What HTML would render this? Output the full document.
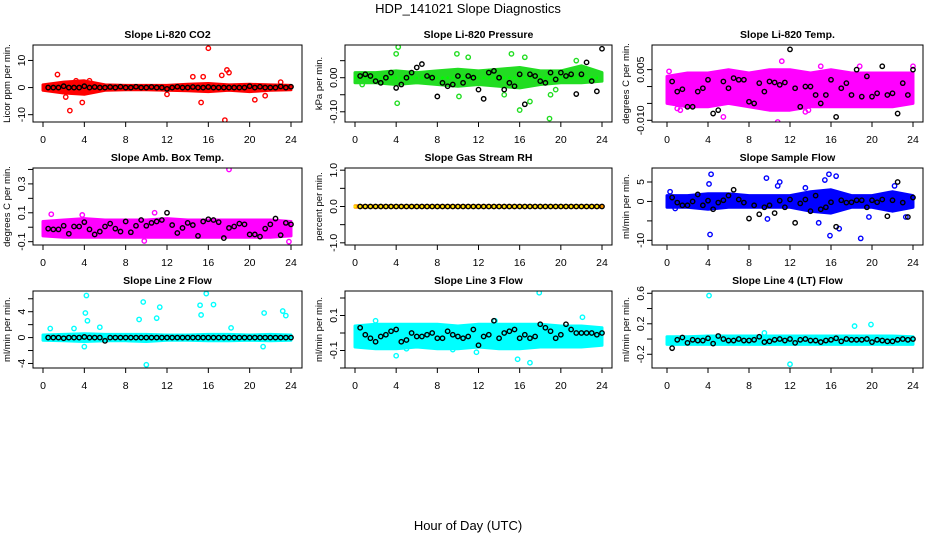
<!DOCTYPE html>
<html><head><meta charset="utf-8">
<style>
html,body{margin:0;padding:0;background:#fff;}
svg{display:block;font-family:"Liberation Sans",sans-serif;}
</style></head>
<body>
<svg id="chart" width="936" height="540" viewBox="0 0 936 540">
<text x="468" y="13" text-anchor="middle" font-size="13">HDP_141021  Slope Diagnostics</text>
<text x="468" y="530" text-anchor="middle" font-size="13">Hour of Day (UTC)</text>
</svg>
<script>
const blackHours = [0.5,1,1.5,2,2.5,3,3.5,4,4.5,5,5.5,6,6.5,7,7.5,8,8.5,9,9.5,10,10.5,11,11.5,12,12.5,13,13.5,14,14.5,15,15.5,16,16.5,17,17.5,18,18.5,19,19.5,20,20.5,21,21.5,22,22.5,23,23.5,24];
const bandHours = [0,2,4,6,8,10,12,14,16,18,20,22,24];

const co2BandLo = [-1,-2,-2.5,-1,-0.8,-0.8,-1,-1.2,-1.5,-1,-1.5,-1,-0.8];
const co2BandHi = [1,2,2.5,1,0.8,0.8,0.8,1.2,1.5,1,1.2,1,0.8];
const co2OutX = [1.4,2.6,3.8,3.2,4.5,14.5,15.3,15.5,16,17.6,17.8,18,17.3,20.5,23,21.5,12,2.2];
const co2OutY = [4.8,-8.5,-5.5,2.5,2.5,4,-5.5,4,14.5,-12,6.5,5.5,4.5,-4.5,2,-3,-2.5,-3.5];
const co2Black = [0,0,0,0.5,0,0,0,0.5,0,0.2,0,0,0.2,0,0.3,0,0,0.3,0,0,0.2,0,0,-0.5,0,0.3,0,0,0.2,0,0,0.2,0,0,0,0,0,0,0,0.5,0,0.3,0,0,0,0.4,0,0.3];

const prBandLo = [-0.015,-0.015,-0.02,-0.015,-0.02,-0.025,-0.02,-0.025,-0.03,-0.02,-0.015,-0.015,-0.01];
const prBandHi = [0.015,0.015,0.02,0.015,0.02,0.025,0.02,0.025,0.03,0.02,0.02,0.035,0.015];
const prOutX = [4.2,4,4.1,9.9,10.1,11,15.2,16,16.5,17,18.9,19,19.5,14.5,0.7,21.5];
const prOutY = [0.09,0.07,-0.075,0.07,-0.055,0.06,0.07,-0.095,0.06,-0.07,-0.12,-0.05,-0.035,-0.05,-0.02,0.05];
const prBlack = [0.005,0.01,0.005,-0.01,-0.015,0,0.015,-0.03,-0.02,0,0.015,0.03,0.04,0.005,0,-0.055,-0.015,-0.025,-0.02,0.005,-0.015,0.005,0,-0.035,-0.062,0.015,0.02,0,-0.035,-0.015,-0.025,0.01,-0.078,0.01,0.005,-0.01,-0.015,0.015,-0.005,0.015,0.005,0.01,-0.048,0.01,0.045,-0.01,-0.04,0.085];

const tpBandLo = [-0.005,-0.006,-0.006,-0.005,-0.006,-0.007,-0.007,-0.006,-0.006,-0.006,-0.006,-0.006,-0.005];
const tpBandHi = [0.003,0.004,0.004,0.005,0.004,0.005,0.005,0.004,0.005,0.004,0.004,0.004,0.004];
const tpOutX = [0.2,1,1.3,5.5,10.8,11.2,13.5,13.8,15,24,9.5,18.8];
const tpOutY = [0.0045,-0.0065,-0.007,-0.009,-0.0105,0.0075,-0.0075,-0.007,0.006,0.006,-0.006,0.006];
const tpBlack = [0.0015,-0.0015,-0.0008,-0.006,-0.006,-0.0015,-0.0005,0.002,-0.008,-0.007,0.0015,-0.0005,0.0025,0.002,0.002,-0.0045,-0.005,0.001,-0.0015,0.0015,0.0012,0.0005,0.0012,0.011,-0.0005,-0.006,0,0,-0.0025,-0.005,-0.0025,0.002,-0.009,-0.0005,0.001,-0.0025,0.005,-0.003,0.003,-0.003,-0.002,0.006,-0.0025,-0.002,-0.008,0.001,-0.0025,0.005];

const abBandLo = [-0.06,-0.07,-0.07,-0.07,-0.07,-0.07,-0.07,-0.07,-0.07,-0.07,-0.07,-0.07,-0.06];
const abBandHi = [0.04,0.05,0.06,0.05,0.05,0.05,0.06,0.05,0.05,0.05,0.05,0.05,0.04];
const abOutX = [18,23.8,9.8,0.8,10.8,3.8];
const abOutY = [0.40,-0.1,-0.095,0.09,0.1,0.085];
const abBlack = [-0.01,-0.015,-0.015,0.01,-0.045,0.005,0.005,0.035,-0.015,-0.05,-0.03,0.005,0.025,-0.01,-0.03,0.04,-0.035,0.01,0.05,0.01,0.03,0.04,0.05,0.1,0.015,-0.04,-0.005,0.03,0.015,-0.06,0.04,0.055,0.05,0.035,-0.075,-0.005,0.005,0.025,0.02,-0.05,-0.05,-0.065,-0.01,0.02,0.06,-0.055,0.03,0.02];

const rhBandLo = [-0.02,-0.02,-0.02,-0.02,-0.02,-0.02,-0.02,-0.02,-0.02,-0.02,-0.02,-0.02,-0.02];
const rhBandHi = [0.02,0.02,0.02,0.02,0.02,0.02,0.02,0.02,0.02,0.02,0.02,0.02,0.02];
const rhOutX = [];
const rhOutY = [];
const rhBlack = [0,0,0,0,0,0,0,0,0,0,0,0,0,0,0,0,0,0,0,0,0,0,0,0,0,0,0,0,0,0,0,0,0,0,0,0,0,0,0,0,0,0,0,0,0,0,0,0];

const sfBandLo = [-1.5,-1.5,-2,-1.5,-1.5,-1.5,-1.5,-2.5,-3,-1.5,-1.5,-2.5,-1.5];
const sfBandHi = [1.5,1.5,2,2,1.5,1.5,1.5,2.5,3,1.5,1.5,2.5,1.5];
const sfOutX = [4.2,4.3,9.7,15.8,16.5,15.9,18.9,16.8,14.8,11,13.5,9.8,19.7,23.3,22.2,0.3,0.8,4.1,15.4,10.8];
const sfOutY = [-8.5,7,6,7,6.5,-8.8,-9.5,-7,-5.5,5,3.5,-4.5,-4,-4,4,2.5,-1.8,4.5,5.5,4];
const sfBlack = [1,-0.3,-1,-1,0,1.8,-1,0.2,-2,-0.3,0.3,1.5,3,0.5,-0.3,-4.4,-1,-3.3,-1.5,-1,-3,0.2,-1.5,0.5,-5.5,-0.5,0.5,-2.5,1.5,-2,-1.5,-0.2,-6.5,0.3,-0.3,-0.2,0.3,0.3,-1.5,0.3,-0.2,0.5,-3.8,0.3,5,-0.3,-4,1];

const l2BandLo = [-0.4,-0.5,-0.6,-0.5,-0.5,-0.6,-0.4,-0.4,-0.5,-0.5,-0.4,-0.5,-0.4];
const l2BandHi = [0.4,0.5,0.6,0.5,0.5,0.5,0.4,0.4,0.5,0.5,0.4,0.5,0.4];
const l2OutX = [4.2,4.1,4.3,3,0.7,9.7,10,11.3,11,9.3,15.2,15.3,15.8,16.5,21.4,23.2,23.5,4,21.3,18.2,5.5];
const l2OutY = [6.5,3.8,2.6,1.4,1.4,5.5,-4.2,4.7,3,2.8,5,3.5,6.8,5.1,3.8,4.1,3.4,-1.4,-1.4,1.5,1.6];
const l2Black = [0,0,0,-0.1,0,0,0,0.1,0,0,0,-0.5,0,0,0,0,0,0,0,0,0,0,0,0,0,0,0,0,0,0,0,0,0,0,0,0,0,0,0,0,0,0,0,0,0,0,0,0];

const l3BandLo = [-0.08,-0.09,-0.09,-0.08,-0.09,-0.09,-0.08,-0.09,-0.09,-0.08,-0.08,-0.08,-0.07];
const l3BandHi = [0.04,0.05,0.05,0.05,0.05,0.04,0.05,0.05,0.05,0.05,0.04,0.04,0.03];
const l3OutX = [17.9,4,17,15.8,22.1,13.6,5,2,9.5,11.8];
const l3OutY = [0.23,-0.13,-0.17,-0.15,0.09,0.07,-0.09,0.07,-0.095,-0.11];
const l3Black = [0.03,-0.01,-0.03,-0.05,-0.02,-0.01,0.01,0.02,-0.05,-0.04,0,-0.02,-0.02,-0.01,0,-0.03,-0.03,0.01,-0.01,-0.02,-0.03,-0.02,0.02,-0.07,-0.02,-0.01,0.07,-0.03,0,0.01,0.02,-0.03,-0.01,-0.03,-0.02,0.05,0.03,0.01,-0.03,-0.01,0.05,0.02,0,0,0,0,-0.01,0];

const l4BandLo = [-0.07,-0.07,-0.07,-0.07,-0.07,-0.07,-0.07,-0.07,-0.07,-0.07,-0.07,-0.07,-0.07];
const l4BandHi = [0.03,0.03,0.04,0.04,0.04,0.04,0.04,0.04,0.04,0.04,0.04,0.04,0.03];
const l4OutX = [4.1,12,18.3,19.9,9.5];
const l4OutY = [0.57,-0.33,0.17,0.19,0.08];
const l4Black = [-0.12,-0.01,0.02,-0.05,-0.01,-0.02,-0.02,0.01,-0.06,0.04,0,-0.02,-0.02,0,-0.02,-0.02,-0.01,0.03,-0.04,-0.03,-0.01,0,-0.02,0,-0.05,-0.01,0,-0.02,-0.02,-0.04,-0.02,-0.01,0.01,-0.03,0,-0.01,-0.01,-0.01,0,-0.04,-0.01,-0.02,-0.03,-0.03,-0.01,0,-0.01,0];

const xTicks = [0,4,8,12,16,20,24];
const xTickLabels = ["0","4","8","12","16","20","24"];

const panels = [
 {name:"co2",title:"Slope Li-820 CO2",ylab:"Licor ppm per min.",ymin:-12.7,ymax:15.7,yt:[-10,0,10],yl:["-10","0","10"],lo:co2BandLo,hi:co2BandHi,ox:co2OutX,oy:co2OutY,bk:co2Black,col:"#ff0000",col2:"#ff0000"},
 {name:"pressure",title:"Slope Li-820 Pressure",ylab:"kPa per min.",ymin:-0.13,ymax:0.096,yt:[-0.10,-0.05,0,0.05],yl:["-0.10","","0.00",""],lo:prBandLo,hi:prBandHi,ox:prOutX,oy:prOutY,bk:prBlack,col:"#22dd22",col2:"#00ff00"},
 {name:"temp",title:"Slope Li-820 Temp.",ylab:"degrees C per min.",ymin:-0.0105,ymax:0.0123,yt:[-0.01,-0.005,0,0.005],yl:["-0.010","","","0.005"],lo:tpBandLo,hi:tpBandHi,ox:tpOutX,oy:tpOutY,bk:tpBlack,col:"#ff00ff",col2:"#ff00ff"},
 {name:"amb-temp",title:"Slope Amb. Box Temp.",ylab:"degrees C per min.",ymin:-0.123,ymax:0.41,yt:[-0.1,0,0.1,0.2,0.3,0.4],yl:["-0.1","","0.1","","0.3",""],lo:abBandLo,hi:abBandHi,ox:abOutX,oy:abOutY,bk:abBlack,col:"#ff00ff",col2:"#ff00ff"},
 {name:"rh",title:"Slope Gas Stream RH",ylab:"percent per min.",ymin:-1.06,ymax:1.06,yt:[-1,-0.5,0,0.5,1],yl:["-1.0","","0.0","","1.0"],lo:rhBandLo,hi:rhBandHi,ox:rhOutX,oy:rhOutY,bk:rhBlack,col:"#ff9900",col2:"#ffee00"},
 {name:"sample-flow",title:"Slope Sample Flow",ylab:"ml/min per min.",ymin:-11.2,ymax:8.6,yt:[-10,-5,0,5],yl:["-10","","0","5"],lo:sfBandLo,hi:sfBandHi,ox:sfOutX,oy:sfOutY,bk:sfBlack,col:"#0000ff",col2:"#0000ff"},
 {name:"line2",title:"Slope Line 2 Flow",ylab:"ml/min per min.",ymin:-4.7,ymax:7.2,yt:[-4,-2,0,2,4,6],yl:["-4","","0","","4",""],lo:l2BandLo,hi:l2BandHi,ox:l2OutX,oy:l2OutY,bk:l2Black,col:"#00ffff",col2:"#00ffff"},
 {name:"line3",title:"Slope Line 3 Flow",ylab:"ml/min per min.",ymin:-0.2,ymax:0.24,yt:[-0.2,-0.1,0,0.1,0.2],yl:["","-0.1","","0.1",""],lo:l3BandLo,hi:l3BandHi,ox:l3OutX,oy:l3OutY,bk:l3Black,col:"#00ffff",col2:"#00ffff"},
 {name:"line4",title:"Slope Line 4 (LT) Flow",ylab:"ml/min per min.",ymin:-0.38,ymax:0.63,yt:[-0.2,0,0.2,0.4,0.6],yl:["-0.2","","0.2","","0.6"],lo:l4BandLo,hi:l4BandHi,ox:l4OutX,oy:l4OutY,bk:l4Black,col:"#00ffff",col2:"#00ffff"}
];

const NS = "http://www.w3.org/2000/svg";
const svg = document.getElementById("chart");
const colL = [33,345,652], colR = [302,612,923], colX0 = [43,355,667], colX24 = [291,602,913];
const rowT = [45,168,291], boxH = 77;

function mk(tag, attrs, parent){
  const e = document.createElementNS(NS, tag);
  for (const k in attrs) e.setAttribute(k, attrs[k]);
  (parent||svg).appendChild(e);
  return e;
}

panels.forEach((p, i) => {
  const c = i % 3, r = Math.floor(i / 3);
  const L = colL[c], R = colR[c], T = rowT[r], B = T + boxH;
  const xs = v => colX0[c] + v / 24 * (colX24[c] - colX0[c]);
  const ys = v => B - (v - p.ymin) / (p.ymax - p.ymin) * (B - T);
  const g = mk("g", {});
  
  

  const clip = mk("clipPath", {id: "clip" + i}, g);
  mk("rect", {x: L, y: T, width: R - L, height: B - T}, clip);

  const t = mk("text", {x: (L + R) / 2, y: T - 7, "text-anchor": "middle", "font-size": "10.5", "font-weight": "bold"}, g);
  t.textContent = p.title;
  
  

  const yl = mk("text", {x: 0, y: 0, "text-anchor": "middle", "font-size": "9.5", transform: `translate(${L - 23},${(T + B) / 2}) rotate(-90)`}, g);
  yl.textContent = p.ylab;
  
  

  const pg = mk("g", {"clip-path": `url(#clip${i})`}, g);
  let d = "";
  bandHours.forEach((h, k) => { d += (k ? "L" : "M") + xs(h).toFixed(1) + "," + ys(p.hi[k]).toFixed(1); });
  for (let k = bandHours.length - 1; k >= 0; k--) d += "L" + xs(bandHours[k]).toFixed(1) + "," + ys(p.lo[k]).toFixed(1);
  d += "Z";
  const band = mk("path", {d: d, fill: p.col, stroke: p.col, "stroke-width": 3, "stroke-linejoin": "round"}, pg);
  
  
  if (p.col2 !== p.col) {
    bandHours.forEach((h, k) => {
      if (k === bandHours.length - 1) return;
      for (let s = 0; s < 4; s++) {
        const hx = h + s * 0.5;
        const yd = mk("circle", {cx: xs(hx), cy: ys(0), r: 1.3, fill: p.col2}, pg);
        
        
      }
    });
  }
  p.ox.forEach((x, k) => {
    const o = mk("circle", {cx: xs(x), cy: ys(p.oy[k]), r: 2.2, fill: "none", stroke: p.col, "stroke-width": 1.4}, pg);
    
    
  });
  blackHours.forEach((h, k) => {
    const b = mk("circle", {cx: xs(h), cy: ys(p.bk[k]), r: 2.2, fill: "none", stroke: "#000", "stroke-width": 1.4}, pg);
    
    
  });

  const box = mk("rect", {x: L, y: T, width: R - L, height: B - T, fill: "none", stroke: "#000", "stroke-width": 1}, g);
  
  

  xTicks.forEach((v, k) => {
    mk("line", {x1: xs(v), x2: xs(v), y1: B, y2: B + 5, stroke: "#000"}, g);
    const tl = mk("text", {x: xs(v), y: B + 21, "text-anchor": "middle", "font-size": "10.5"}, g);
    tl.textContent = xTickLabels[k];
    
    
  });
  mk("line", {x1: xs(0), x2: xs(24), y1: B, y2: B, stroke: "#000"}, g);
  p.yt.forEach((v, k) => {
    mk("line", {x1: L - 5, x2: L, y1: ys(v), y2: ys(v), stroke: "#000"}, g);
    if (p.yl[k]) {
      const tl = mk("text", {x: 0, y: 0, "text-anchor": "middle", "font-size": "10.5", transform: `translate(${L - 8},${ys(v)}) rotate(-90)`}, g);
      tl.textContent = p.yl[k];
      
      
    }
  });
});
</script>
</body></html>
